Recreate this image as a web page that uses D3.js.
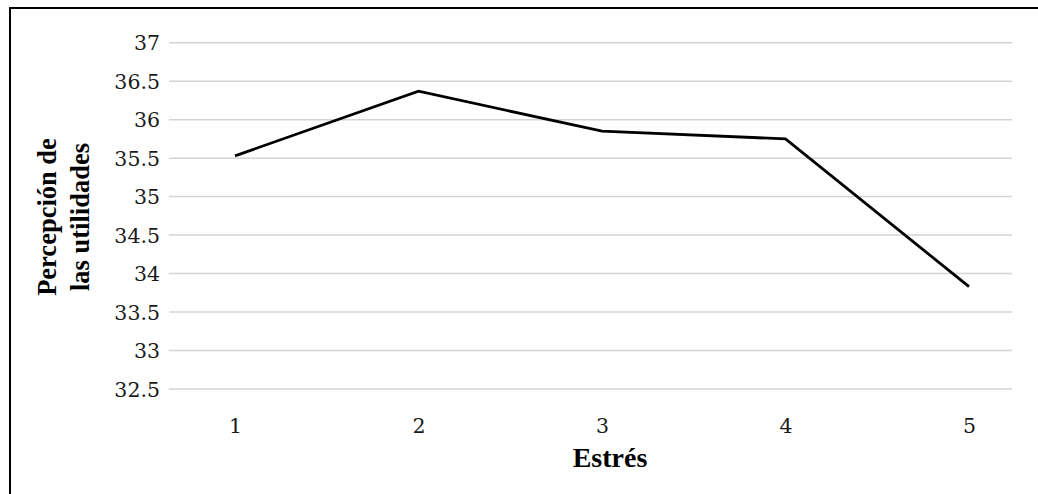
<!DOCTYPE html>
<html>
<head>
<meta charset="utf-8">
<script src="https://cdn.jsdelivr.net/npm/d3@7"></script>
<style>
  html, body { margin: 0; padding: 0; background: #fff; }
  svg { display: block; }
</style>
</head>
<body>
<svg id="chart" width="1038" height="494"></svg>
<script>
const categories = ["1", "2", "3", "4", "5"];
const values = [35.53, 36.37, 35.85, 35.75, 33.83];
const yTicks = [32.5, 33, 33.5, 34, 34.5, 35, 35.5, 36, 36.5, 37];
const xTitle = "Estrés";
const yTitleLines = ["Percepción de", "las utilidades"];

const svg = d3.select("#chart");

// frame (left and top edges visible)
svg.append("path")
  .attr("d", "M10,494 L10,8 L1038,8")
  .attr("fill", "none")
  .attr("stroke", "#000")
  .attr("stroke-width", 2);

const plotLeft = 169, plotRight = 1012;
const y = d3.scaleLinear().domain([32.5, 37]).range([389, 42.7]);
const x = d3.scalePoint().domain(categories).range([235, 969]);

// gridlines
svg.append("g").selectAll("line").data(yTicks).join("line")
  .attr("x1", plotLeft).attr("x2", plotRight)
  .attr("y1", d => y(d)).attr("y2", d => y(d))
  .attr("stroke", "#d4d4d4").attr("stroke-width", 1.5);

// y axis labels
const yAxis = d3.axisLeft(y).tickValues(yTicks).tickSize(0).tickPadding(0)
  .tickFormat(d => String(d));
const gy = svg.append("g").attr("transform", "translate(160,0)").call(yAxis);
gy.select(".domain").remove();
gy.selectAll("text")
  .attr("font-family", "DejaVu Serif, serif")
  .attr("font-size", 20.5)
  .attr("fill", "#1a1a1a")
  .attr("dy", "0.35em");

// x axis labels
const xAxis = d3.axisBottom(x).tickSize(0).tickPadding(0);
const gx = svg.append("g").attr("transform", "translate(0,418)").call(xAxis);
gx.select(".domain").remove();
gx.selectAll("text")
  .attr("font-family", "DejaVu Serif, serif")
  .attr("font-size", 20.5)
  .attr("fill", "#1a1a1a")
  .attr("dy", "0.72em");

// line
const line = d3.line()
  .x((d, i) => x(categories[i]))
  .y(d => y(d));
svg.append("path")
  .datum(values)
  .attr("d", line)
  .attr("fill", "none")
  .attr("stroke", "#000")
  .attr("stroke-width", 2.8)
  .attr("stroke-linejoin", "miter");

// x title
svg.append("text")
  .attr("x", 610).attr("y", 467)
  .attr("text-anchor", "middle")
  .attr("font-family", "Liberation Serif, serif")
  .attr("font-weight", "bold")
  .attr("font-size", 28)
  .attr("fill", "#000")
  .text(xTitle);

// y title
const yt = svg.append("text")
  .attr("transform", "translate(0,217) rotate(-90)")
  .attr("text-anchor", "middle")
  .attr("font-family", "Liberation Serif, serif")
  .attr("font-weight", "bold")
  .attr("font-size", 26.5)
  .attr("fill", "#000");
yt.selectAll("tspan").data(yTitleLines).join("tspan")
  .attr("x", 0)
  .attr("y", (d, i) => i === 0 ? 56 : 89)
  .text(d => d);
</script>
</body>
</html>
